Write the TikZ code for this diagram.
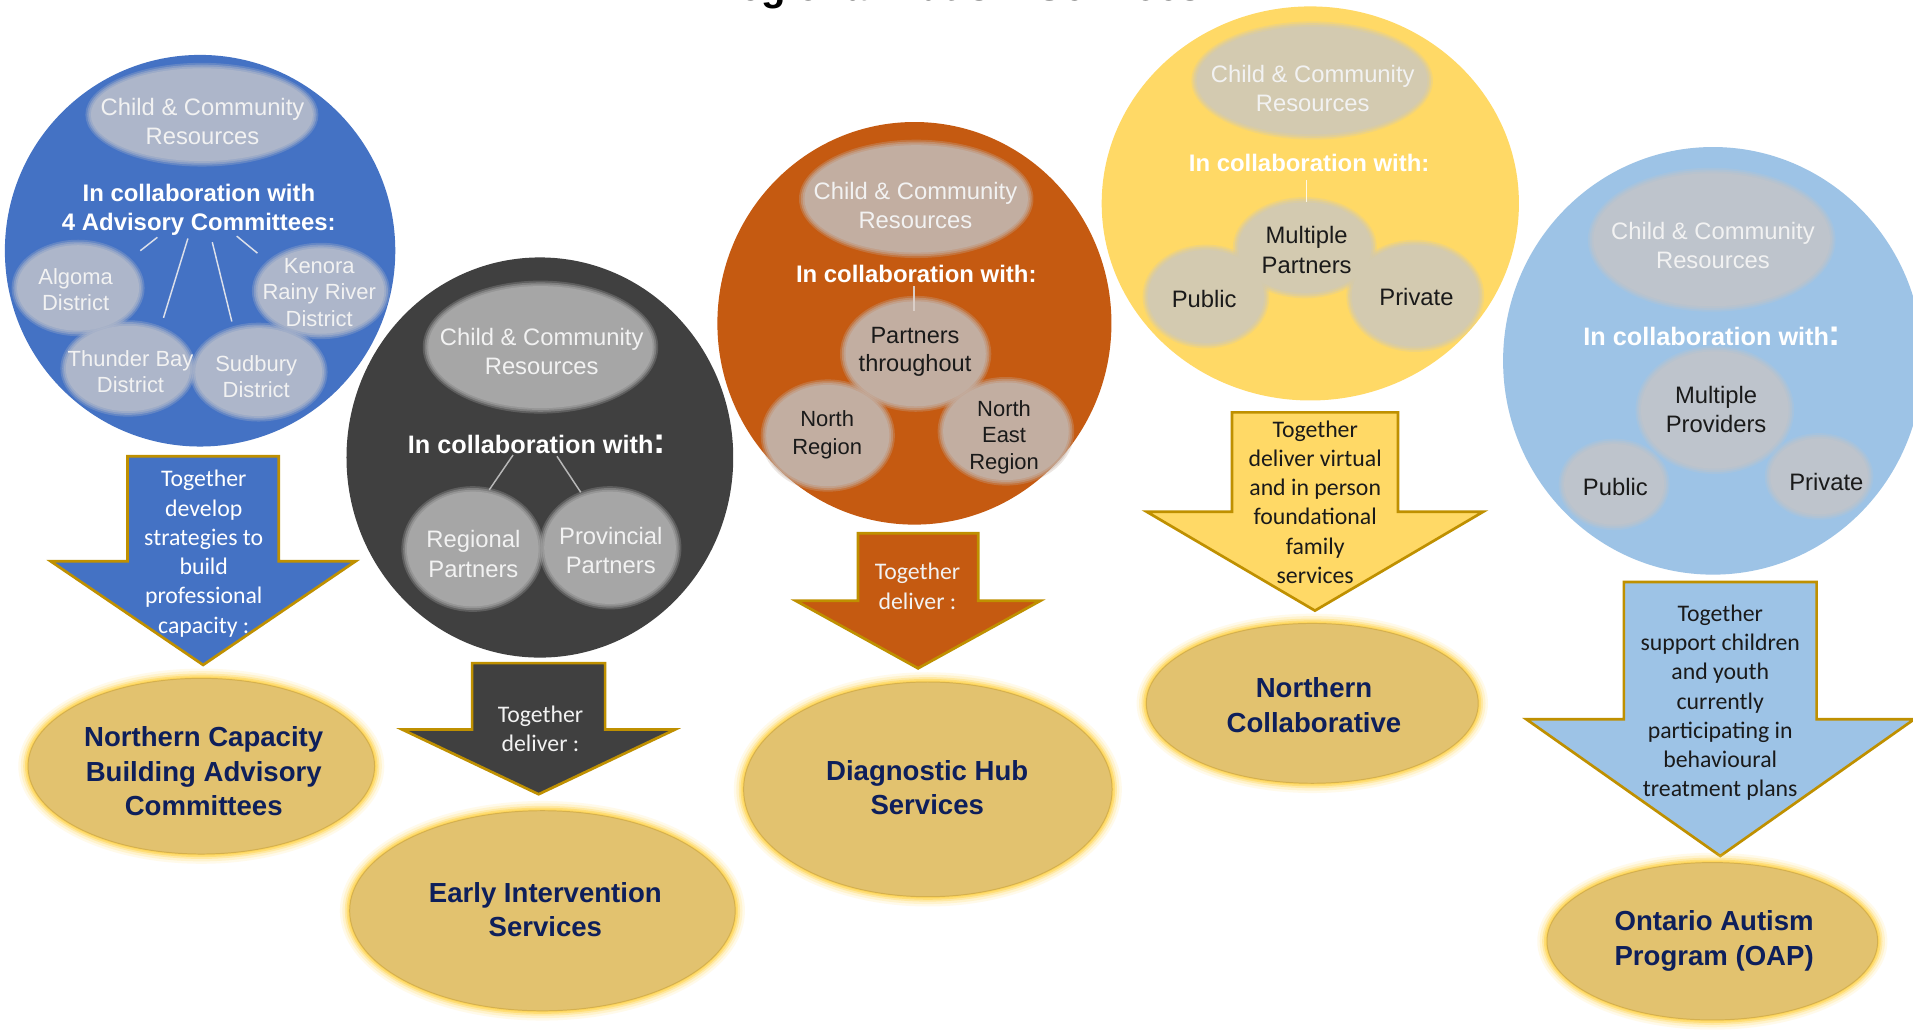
\documentclass[tikz,border=0pt]{standalone}
\usepackage{fontspec}
\setmainfont{Liberation Sans}
\newfontfamily\calfont{Carlito}

\definecolor{cblue}{HTML}{4472C4}
\definecolor{cbluein}{HTML}{ADB6CA}
\definecolor{cdark}{HTML}{404040}
\definecolor{cdarkin}{HTML}{A6A6A6}
\definecolor{corange}{HTML}{C55A11}
\definecolor{corangein}{HTML}{C2AEA1}
\definecolor{cyellow}{HTML}{FFD966}
\definecolor{cyellowin}{HTML}{D3CAB0}
\definecolor{clblue}{HTML}{9DC3E6}
\definecolor{clbluein}{HTML}{BEC4CC}
\definecolor{gold}{HTML}{BF9000}
\definecolor{tgtfill}{HTML}{E2C26F}
\definecolor{tgtedge}{HTML}{D5B04E}
\definecolor{glow}{HTML}{FFD75A}
\definecolor{navy}{HTML}{0E1F5B}
\definecolor{lighttxt}{HTML}{F2F2F2}
\definecolor{darktxt}{HTML}{1A1A1A}
\definecolor{linkline}{HTML}{DCE0EA}

% ellipse with a soft, feathered rim
\newcommand\softfill[5]{%
  \pgfmathsetmacro\sfxa{#4+1.5}\pgfmathsetmacro\sfya{#5+1.5}%
  \pgfmathsetmacro\sfxb{#4-1.5}\pgfmathsetmacro\sfyb{#5-1.5}%
  \pgfmathsetmacro\sfxc{#4-3}\pgfmathsetmacro\sfyc{#5-3}%
  \fill[#1,opacity=0.3] (#2,#3) ellipse [x radius=\sfxa pt, y radius=\sfya pt];
  \fill[#1,opacity=0.45] (#2,#3) ellipse [x radius=#4pt, y radius=#5pt];
  \fill[#1,opacity=0.6] (#2,#3) ellipse [x radius=\sfxb pt, y radius=\sfyb pt];
  \fill[#1] (#2,#3) ellipse [x radius=\sfxc pt, y radius=\sfyc pt];
}

% golden result ellipse with a yellow glow
\newcommand\glowfill[4]{%
  \foreach \gd/\go in {8/0.12,6/0.2,4/0.35,2.5/0.6,1.2/0.9}{%
    \pgfmathsetmacro\gfx{#3+\gd}\pgfmathsetmacro\gfy{#4+\gd}%
    \fill[glow,opacity=\go] (#1,#2) ellipse [x radius=\gfx pt, y radius=\gfy pt];
  }
  \filldraw[fill=tgtfill,draw=tgtedge,line width=0.8pt] (#1,#2) ellipse [x radius=#3pt, y radius=#4pt];
}

% block arrow pointing down: colour, centre x, top, half shaft, shoulder, half head, tip
\newcommand\downarrowpoly[7]{%
  \filldraw[fill=#1,draw=gold,line width=2.2pt,line join=miter]
    (#2-#4,#3) -- (#2+#4,#3) -- (#2+#4,#5) -- (#2+#6,#5) -- (#2,#7)
    -- (#2-#6,#5) -- (#2-#4,#5) -- cycle;
}

\begin{document}
\begin{tikzpicture}[x=1pt,y=-1pt,
  every node/.style={inner sep=0pt,align=center,yshift=-2.5pt,
    execute at begin node=\strut,execute at end node=\strut},
  cctxt/.style={font=\fontsize{19.5}{24}\selectfont,text=lighttxt},
  intxt/.style={font=\fontsize{19.5}{24}\selectfont,text=darktxt},
  lintxt/.style={font=\fontsize{19.5}{24}\selectfont,text=lighttxt},
  disttxt/.style={font=\fontsize{18}{21.5}\selectfont,text=lighttxt},
  regtxt/.style={font=\fontsize{18}{22.5}\selectfont,text=darktxt},
  boldtxt/.style={font=\bfseries\fontsize{19.6}{24}\selectfont,text=white},
  boldbig/.style={font=\bfseries\fontsize{20.7}{24}\selectfont,text=white},
  arrtxt/.style={font=\calfont\fontsize{19.5}{24}\selectfont},
  tgttxt/.style={font=\bfseries\fontsize{22.6}{28}\selectfont,text=navy,yshift=-2pt},
  link/.style={draw=linkline,line width=1.2pt},
  darklink/.style={draw=cdarkin!80!white,line width=1.2pt}]

\useasboundingbox (0,0) rectangle (1568,844);
\fill[white] (0,0) rectangle (1568,844);
\clip (0,0) rectangle (1568,844);

% heading, mostly above the page edge
\node (title) [anchor=base,yshift=2.5pt,font=\bfseries\fontsize{32.8}{36}\selectfont,text=black]
  at (783.5,0.8) {Regional Autism Services};

% ---------------- capacity building (blue) ----------------
\fill[cblue] (164,205.5) ellipse [x radius=160pt, y radius=160.5pt];
\softfill{cbluein}{165.5}{94}{94}{41}
\node (c1res) [cctxt] at (166,100.7) {Child \& Community\\Resources};
\node (c1collab) [boldtxt] at (163,171) {In collaboration with\\4 Advisory Committees:};
\softfill{cbluein}{64}{236}{53}{38}
\node (algoma) [disttxt] at (62,238) {Algoma\\District};
\softfill{cbluein}{263}{238.5}{55}{38}
\node (kenora) [disttxt] at (261.7,240.3) {Kenora\\Rainy River\\District};
\softfill{cbluein}{105}{302}{54}{38}
\node (thunder) [disttxt] at (107,305.5) {Thunder Bay\\District};
\softfill{cbluein}{212}{305}{55}{39}
\node (sudbury) [disttxt] at (210,309.3) {Sudbury\\District};
\coordinate (l1a) at (129,192); \coordinate (l1b) at (115,203);
\coordinate (l2a) at (154,193); \coordinate (l2b) at (134,258);
\coordinate (l3a) at (174,196); \coordinate (l3b) at (190,261);
\coordinate (l4a) at (194,191); \coordinate (l4b) at (211,205);
\draw[link] (l1a) -- (l1b);
\draw[link] (l2a) -- (l2b);
\draw[link] (l3a) -- (l3b);
\draw[link] (l4a) -- (l4b);

\downarrowpoly{cblue}{166.5}{374}{62}{460}{125}{545}
\node (a1txt) [arrtxt,text=white] at (167,453.3)
  {Together\\develop\\strategies to\\build\\professional\\capacity :};
\glowfill{165}{628}{142}{72}
\node (e1) [tgttxt] at (167,631.7) {Northern Capacity\\Building Advisory\\Committees};

% ---------------- early intervention (dark grey) ----------------
\fill[cdark] (442.5,375) ellipse [x radius=158.5pt, y radius=164pt];
\softfill{cdarkin}{443}{284.5}{95}{53}
\node (c2res) [cctxt] at (444,289.3) {Child \& Community\\Resources};
\node (c2collab) [boldbig] at (440,364)
  {In collaboration with{\fontsize{30}{24}\selectfont:}};
\softfill{cdarkin}{387.5}{450}{57}{50}
\node (regional) [lintxt] at (388,455) {Regional\\Partners};
\softfill{cdarkin}{500}{449}{57}{49}
\node (provincial) [lintxt] at (500.6,452) {Provincial\\Partners};
\coordinate (m1a) at (420.5,370.5); \coordinate (m1b) at (401,399);
\coordinate (m2a) at (456.5,371.5); \coordinate (m2b) at (476,401);
\draw[darklink] (m1a) -- (m1b);
\draw[darklink] (m2a) -- (m2b);

\downarrowpoly{cdark}{441.5}{543.5}{54.5}{598}{111.7}{651}
\node (a2txt) [arrtxt,text=lighttxt] at (443,598.3) {Together\\deliver :};
\glowfill{444.6}{746.5}{158}{82}
\node (e2) [tgttxt] at (447,745.2) {Early Intervention\\Services};

% ---------------- diagnostic hub (orange) ----------------
\fill[corange] (749.5,265) ellipse [x radius=161.5pt, y radius=165pt];
\softfill{corangein}{751}{163}{94.6}{47}
\node (c3res) [cctxt] at (750.3,169.5) {Child \& Community\\Resources};
\node (c3collab) [boldtxt] at (751,224) {In collaboration with:};
\softfill{corangein}{678.5}{357}{53.5}{44.5}
\node (north) [regtxt] at (678,355.5) {North\\Region};
\softfill{corangein}{824.5}{353.5}{54.5}{43}
\node (northeast) [regtxt,font=\fontsize{18}{21.75}\selectfont] at (823,357) {North\\East\\Region};
\softfill{corangein}{750.5}{290}{60.5}{46}
\node (throughout) [intxt,font=\fontsize{19.3}{23}\selectfont] at (750,287.5) {Partners\\throughout};
\coordinate (n1a) at (749,232); \coordinate (n1b) at (749,252);
\draw[link,draw=corangein!60!white] (n1a) -- (n1b);

\downarrowpoly{corange}{752.5}{437}{49.3}{492.4}{100.3}{547.8}
\node (a3txt) [arrtxt,text=lighttxt] at (752,481.5) {Together\\deliver :};
\glowfill{760.5}{647}{151}{88}
\node (e3) [tgttxt] at (760,645.5) {Diagnostic Hub\\Services};

% ---------------- northern collaborative (yellow) ----------------
\fill[cyellow] (1074,166.75) ellipse [x radius=171pt, y radius=161.5pt];
\softfill{cyellowin}{1075.5}{66}{97.5}{47}
\node (c4res) [cctxt] at (1076,73.5) {Child \& Community\\Resources};
\node (c4collab) [boldtxt] at (1073,133.5) {In collaboration with:};
\softfill{cyellowin}{988.5}{243}{50.5}{41}
\node (public4) [intxt] at (987,245) {Public};
\softfill{cyellowin}{1160}{242.5}{55}{44.5}
\node (private4) [intxt] at (1161,243) {Private};
\softfill{cyellowin}{1069.5}{203}{57.5}{40}
\node (partners4) [intxt] at (1071,205.8) {Multiple\\Partners};
\coordinate (p1a) at (1071,145); \coordinate (p1b) at (1071,163);
\draw[link,draw=white!85!cyellow] (p1a) -- (p1b);

\downarrowpoly{cyellow}{1077.8}{338}{68}{419.4}{138}{500.5}
\node (a4txt) [arrtxt,text=darktxt] at (1078,412.6)
  {Together\\deliver virtual\\and in person\\foundational\\family\\services};
\glowfill{1075.6}{576.5}{136}{65.5}
\node (e4) [tgttxt] at (1077,577.5) {Northern\\Collaborative};

% ---------------- autism program (light blue) ----------------
\fill[clblue] (1404,295.75) ellipse [x radius=172pt, y radius=175.25pt];
\softfill{clbluein}{1403}{196.5}{100}{57.5}
\node (c5res) [cctxt] at (1404,202) {Child \& Community\\Resources};
\node (c5collab) [boldbig] at (1403.5,275.6)
  {In collaboration with{\fontsize{30}{24}\selectfont:}};
\softfill{clbluein}{1405.5}{336}{63.5}{51}
\node (providers) [intxt] at (1406.6,336.8) {Multiple\\Providers};
\softfill{clbluein}{1323}{397}{44}{36}
\node (public5) [intxt] at (1324,398.5) {Public};
\softfill{clbluein}{1491}{390.5}{43}{34}
\node (private5) [intxt] at (1497,394.4) {Private};

\downarrowpoly{clblue}{1410}{477}{79}{589.5}{159}{701.6}
\node (a5txt) [arrtxt,text=darktxt] at (1410,575.5)
  {Together\\support children\\and youth\\currently\\participating in\\behavioural\\treatment plans};
\glowfill{1403.5}{771.5}{135.5}{64.5}
\node (e5) [tgttxt] at (1405,768.5) {Ontario Autism\\Program (OAP)};

\end{tikzpicture}
\end{document}
